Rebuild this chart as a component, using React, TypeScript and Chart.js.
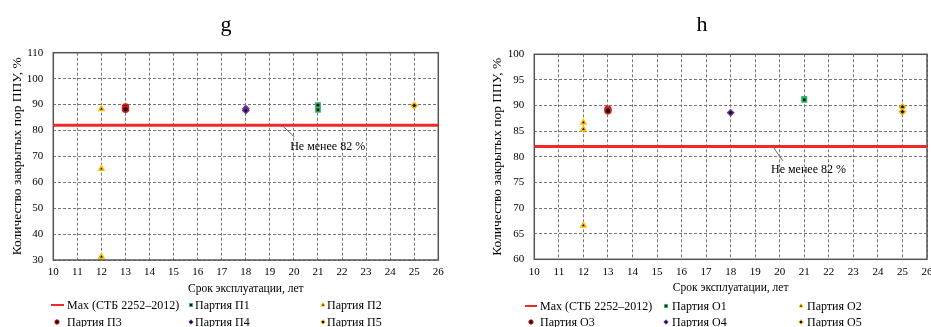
import React, { useEffect, useRef } from 'react';
import { Chart, registerables } from 'chart.js';
import { drawPoint } from 'chart.js/helpers';

Chart.register(...registerables);

const FONT = "'Liberation Serif', 'Times New Roman', serif";

// ---------- shared data ----------
const xMin = 10;
const xMax = 26;
const maxLineLabel = 'Max (СТБ 2252–2012)';
const maxLineX = [10, 26];
const maxLineY = [82, 82];
const annotationText = 'Не менее 82 %';
const xAxisTitle = 'Срок эксплуатации, лет';
const yAxisTitle = 'Количество закрытых пор ППУ, %';

// ---------- chart g ----------
const gTitle = 'g';
const gYTicks = [30, 110, 10]; // min, max, step
const gNames = ['Партия П1', 'Партия П2', 'Партия П3', 'Партия П4', 'Партия П5'];
const gAges = [21, 12, 13, 18, 25];
const gP1 = [89.8, 87.9];
const gP2 = [88.3, 65.2, 31.3];
const gP3 = [89.0, 88.2];
const gP4 = [88.4, 87.7];
const gP5 = [89.6];

// ---------- chart h ----------
const hTitle = 'h';
const hYTicks = [60, 100, 5];
const hNames = ['Партия О1', 'Партия О2', 'Партия О3', 'Партия О4', 'Партия О5'];
const hAges = [21, 12, 13, 18, 25];
const hO1 = [91.3, 91.1];
const hO2 = [86.7, 85.4, 66.6];
const hO3 = [89.3, 89.0];
const hO4 = [88.6];
const hO5 = [89.7, 88.8];

// marker styles per series (П1/О1 ... П5/О5)
const seriesStyles = [
  { pointStyle: 'rect', border: '#2fb866' },
  { pointStyle: 'triangle', border: '#ffc000' },
  { pointStyle: 'circle', border: '#e01818' },
  { pointStyle: 'rectRot', border: '#7030a0' },
  { pointStyle: 'rectRot', border: '#f0b400' },
];
const maxLineColor = '#f02828';

const decorPlugin = {
  id: 'decor',
  beforeDatasetsDraw(chart: any) {
    const { ctx, chartArea } = chart;
    ctx.save();
    ctx.strokeStyle = '#555';
    ctx.lineWidth = 1.5;
    ctx.setLineDash([]);
    ctx.strokeRect(chartArea.left, chartArea.top, chartArea.right - chartArea.left, chartArea.bottom - chartArea.top);
    ctx.restore();
  },
  afterDraw(chart: any, _a: any, opts: any) {
    const { ctx } = chart;
    ctx.save();
    // title
    ctx.fillStyle = '#000';
    ctx.font = `22px ${FONT}`;
    ctx.textAlign = 'center';
    ctx.textBaseline = 'alphabetic';
    ctx.fillText(opts.title, opts.titleX, opts.titleY);

    // annotation
    const ax = chart.scales.x.getPixelForValue(opts.ann.x);
    const ay = chart.scales.y.getPixelForValue(opts.ann.y);
    ctx.strokeStyle = '#666';
    ctx.lineWidth = 1;
    ctx.beginPath();
    ctx.moveTo(ax, ay);
    ctx.lineTo(ax + opts.ann.lineDx, ay + opts.ann.lineDy);
    ctx.stroke();
    ctx.font = `12px ${FONT}`;
    ctx.textBaseline = 'middle';
    ctx.fillText(opts.ann.text, ax + opts.ann.textDx, ay + opts.ann.textDy);

    // legend
    const lg = opts.legend;
    ctx.font = `12px ${FONT}`;
    ctx.textAlign = 'left';
    ctx.textBaseline = 'middle';
    chart.data.datasets.forEach((ds: any, i: number) => {
      const col = i % 3;
      const row = Math.floor(i / 3);
      const y = lg.rowY[row];
      if (ds.showLine) {
        ctx.strokeStyle = ds.borderColor;
        ctx.lineWidth = 2;
        ctx.beginPath();
        ctx.moveTo(lg.lineX[0], y);
        ctx.lineTo(lg.lineX[1], y);
        ctx.stroke();
      } else {
        ctx.fillStyle = ds.pointBackgroundColor;
        ctx.strokeStyle = ds.pointBorderColor;
        ctx.lineWidth = 1;
        drawPoint(ctx, { pointStyle: ds.pointStyle, radius: 2.2, borderWidth: 1, rotation: 0 } as any, lg.markerX[row][col], y);
      }
      ctx.fillStyle = '#000';
      ctx.fillText(ds.label, lg.textX[row][col], y + 0.5);
    });
    ctx.restore();
  },
};

type PanelCfg = {
  title: string;
  titleX: number;
  yTicks: number[];
  names: string[];
  ages: number[];
  values: number[][];
  pad: { top: number; right: number; bottom: number };
  yAxisW: number;
  xAxisH: number;
  yTitlePad: number;
  legend: any;
  annX: number;
  ann: { lineDx: number; lineDy: number; textDx: number; textDy: number };
};

function Panel({ cfg, left, width }: { cfg: PanelCfg; left: number; width: number }) {
  const ref = useRef<HTMLCanvasElement>(null);
  useEffect(() => {
    const datasets: any[] = [
      {
        label: maxLineLabel,
        data: maxLineX.map((x, i) => ({ x, y: maxLineY[i] })),
        showLine: true,
        borderColor: maxLineColor,
        borderWidth: 3,
        pointRadius: 0,
        order: 10,
      },
    ];
    cfg.names.forEach((name, i) => {
      datasets.push({
        label: name,
        data: cfg.values[i].map((y) => ({ x: cfg.ages[i], y })),
        showLine: false,
        pointStyle: seriesStyles[i].pointStyle,
        pointRadius: 3,
        pointBorderWidth: 1.5,
        pointBackgroundColor: '#111',
        pointBorderColor: seriesStyles[i].border,
        order: 1,
      });
    });
    const tickFont = { family: FONT, size: 11 };
    const chart = new Chart(ref.current!, {
      type: 'scatter',
      data: { datasets },
      plugins: [decorPlugin],
      options: {
        responsive: false,
        animation: false,
        events: [],
        layout: { padding: { left: 0, right: cfg.pad.right, top: cfg.pad.top, bottom: cfg.pad.bottom } },
        plugins: {
          legend: { display: false },
          tooltip: { enabled: false },
          title: { display: false },
          decor: {
            title: cfg.title,
            titleX: cfg.titleX,
            titleY: 31,
            legend: cfg.legend,
            ann: { x: cfg.annX, y: maxLineY[0], text: annotationText, ...cfg.ann },
          },
        } as any,
        scales: {
          x: {
            type: 'linear',
            min: xMin,
            max: xMax,
            ticks: { stepSize: 1, autoSkip: false, maxRotation: 0, padding: 6, color: '#000', font: tickFont },
            grid: { color: '#777', lineWidth: 1, drawTicks: false },
            border: { display: false, dash: [3, 2] },
            title: { display: true, text: xAxisTitle, color: '#000', font: { family: FONT, size: 11.5 }, padding: { top: 0, bottom: 0 } },
            afterFit: (s: any) => {
              s.height = cfg.xAxisH;
            },
          },
          y: {
            type: 'linear',
            min: cfg.yTicks[0],
            max: cfg.yTicks[1],
            ticks: { stepSize: cfg.yTicks[2], padding: 10, color: '#000', font: tickFont },
            grid: { color: '#777', lineWidth: 1, drawTicks: false },
            border: { display: false, dash: [3, 2] },
            title: { display: true, text: yAxisTitle, color: '#000', font: { family: FONT, size: 13.5 }, padding: { top: cfg.yTitlePad, bottom: 0 } },
            afterFit: (s: any) => {
              s.width = cfg.yAxisW;
            },
          },
        },
      } as any,
    });
    return () => chart.destroy();
  }, []);
  return (
    <canvas
      ref={ref}
      width={width}
      height={327}
      style={{ position: 'absolute', left, top: 0, width, height: 327 }}
    />
  );
}

const gCfg: PanelCfg = {
  title: gTitle,
  titleX: 226,
  yTicks: gYTicks,
  names: gNames,
  ages: gAges,
  values: [gP1, gP2, gP3, gP4, gP5],
  pad: { top: 52.7, right: 465 - 438.3, bottom: 31 },
  yAxisW: 53.3,
  xAxisH: 36,
  yTitlePad: 9.5,
  legend: {
    rowY: [305, 322],
    lineX: [51, 64],
    markerX: [[57, 191, 323], [57, 191, 323]],
    textX: [[67, 195, 327], [67, 195, 327]],
  },
  annX: 19.5,
  ann: { lineDx: 12.6, lineDy: 11.7, textDx: 45.8, textDy: 21.7 },
};

const hCfg: PanelCfg = {
  title: hTitle,
  titleX: 237,
  yTicks: hYTicks,
  names: hNames,
  ages: hAges,
  values: [hO1, hO2, hO3, hO4, hO5],
  pad: { top: 54.3, right: 475 - 462, bottom: 31.7 },
  yAxisW: 69.3,
  xAxisH: 36,
  yTitlePad: 24,
  legend: {
    rowY: [306, 322],
    lineX: [60, 72],
    markerX: [[66, 201, 336], [66, 201, 336]],
    textX: [[75, 207, 342], [75, 207, 342]],
  },
  annX: 19.72,
  ann: { lineDx: 10, lineDy: 14.3, textDx: 35.6, textDy: 23.3 },
};

export default function App() {
  return (
    <div
      style={{
        position: 'fixed',
        left: 0,
        top: 0,
        width: 931,
        height: 327,
        overflow: 'hidden',
        background: '#fff',
      }}
    >
      <Panel cfg={gCfg} left={0} width={465} />
      <Panel cfg={hCfg} left={465} width={475} />
    </div>
  );
}
